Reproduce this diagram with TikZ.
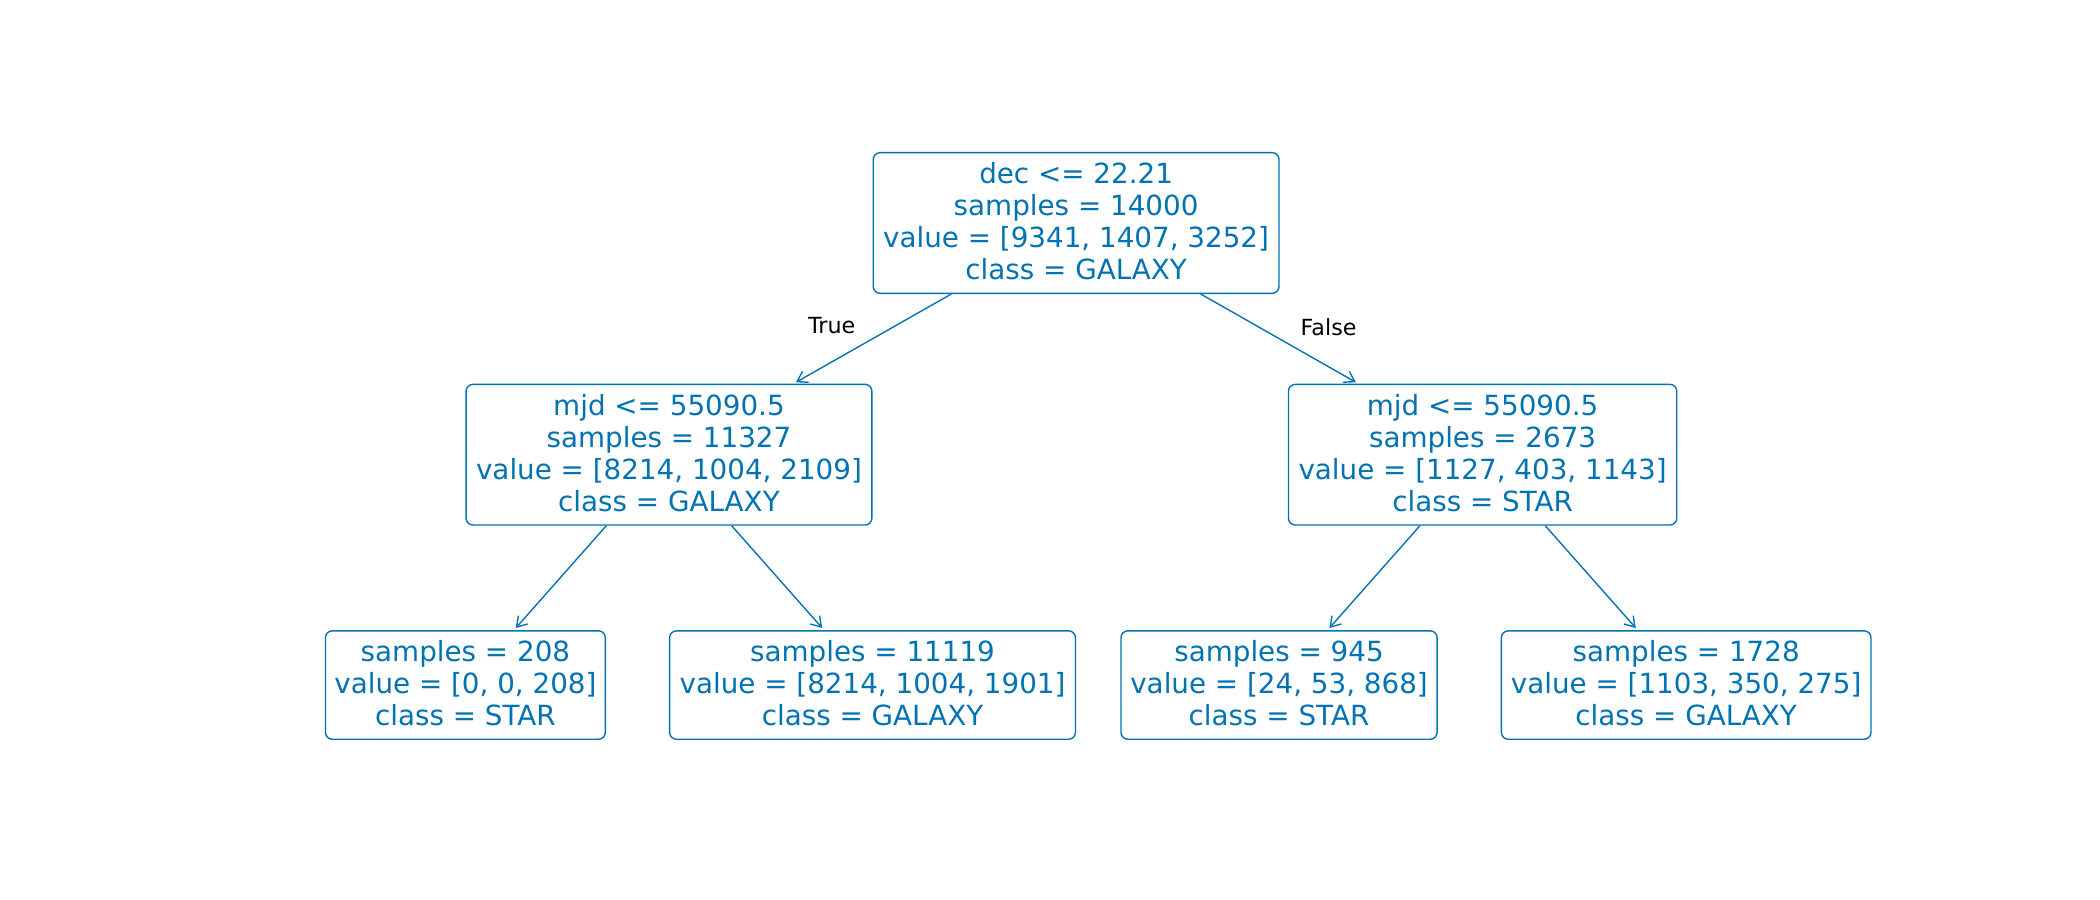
\documentclass[tikz,border=0pt]{standalone}
\usepackage{fontspec}
\setmainfont{DejaVu Sans}
\usetikzlibrary{arrows.meta}
\definecolor{treeblue}{RGB}{1,115,178}
\tikzset{
  treenode/.style={draw=treeblue, text=treeblue, line width=1pt, rounded corners=5pt,
    align=center, inner sep=0pt, text depth=3pt, font=\fontsize{20}{23}\selectfont},
  treeedge/.style={draw=treeblue, line width=1pt, -{Straight Barb[length=7pt,width=9pt,line width=1pt]}, shorten >=2pt},
  edgelabel/.style={text=black, font=\fontsize{16}{19}\selectfont, inner sep=0pt}
}
\begin{document}
\begin{tikzpicture}[x=0.9643pt, y=-0.9643pt]
\useasboundingbox (0,0) rectangle (1568,672);
\fill[white] (0,0) rectangle (1568,672);
\node[treenode, minimum width=292.2pt, minimum height=101.3pt] (root) at (803.5,166.5)
  {dec <= 22.21\\samples = 14000\\value = [9341, 1407, 3252]\\class = GALAXY};
\node[treenode, minimum width=292.2pt, minimum height=101.3pt] (lm) at (499.5,339.5)
  {mjd <= 55090.5\\samples = 11327\\value = [8214, 1004, 2109]\\class = GALAXY};
\node[treenode, minimum width=279.6pt, minimum height=101.3pt] (rm) at (1107,339.5)
  {mjd <= 55090.5\\samples = 2673\\value = [1127, 403, 1143]\\class = STAR};
\node[treenode, minimum width=201.5pt, minimum height=78.1pt] (ll) at (347.5,511.5)
  {samples = 208\\value = [0, 0, 208]\\class = STAR};
\node[treenode, minimum width=292.2pt, minimum height=78.1pt] (lr) at (651.5,511.5)
  {samples = 11119\\value = [8214, 1004, 1901]\\class = GALAXY};
\node[treenode, minimum width=227.6pt, minimum height=78.1pt] (rl) at (955,511.5)
  {samples = 945\\value = [24, 53, 868]\\class = STAR};
\node[treenode, minimum width=266.1pt, minimum height=78.1pt] (rr) at (1259,511.5)
  {samples = 1728\\value = [1103, 350, 275]\\class = GALAXY};
\draw[treeedge] (root) -- (lm);
\draw[treeedge] (root) -- (rm);
\draw[treeedge] (lm) -- (ll);
\draw[treeedge] (lm) -- (lr);
\draw[treeedge] (rm) -- (rl);
\draw[treeedge] (rm) -- (rr);
\node[edgelabel] (truelabel) at (621,243) {True};
\node[edgelabel] (falselabel) at (992,244) {False};
\end{tikzpicture}
\end{document}
